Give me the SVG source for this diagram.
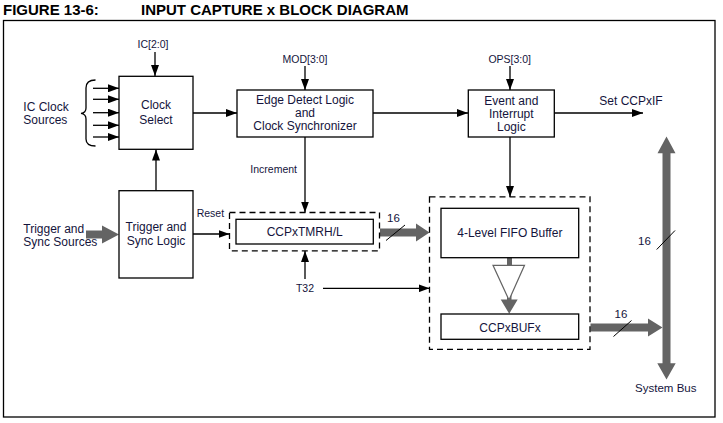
<svg xmlns="http://www.w3.org/2000/svg" width="723" height="423" viewBox="0 0 723 423">
<defs>
<style>
.t{font-family:"Liberation Sans",Arial,sans-serif;font-size:12px;fill:#14143c}
.s{font-family:"Liberation Sans",Arial,sans-serif;font-size:10.5px;fill:#14143c}
.ttl{font-family:"Liberation Sans",Arial,sans-serif;font-size:15px;font-weight:bold;fill:#000}
.m{text-anchor:middle}
.box{fill:#fff;stroke:#000;stroke-width:1.3}
.dash{fill:none;stroke:#000;stroke-width:1.3;stroke-dasharray:6,4}
.ln{fill:none;stroke:#000;stroke-width:1.3}
.ar{fill:none;stroke:#000;stroke-width:1.3;marker-end:url(#ah)}
.bus{fill:#646464;stroke:none}
.sl{stroke:#000;stroke-width:1}
</style>
<marker id="ah" markerUnits="userSpaceOnUse" markerWidth="11" markerHeight="8" refX="11" refY="4" orient="auto">
<path d="M0,0 L11,4 L0,8 z" fill="#000"/>
</marker>
</defs>
<rect width="723" height="423" fill="#fff"/>
<text class="ttl" x="3" y="15">FIGURE 13-6:</text>
<text class="ttl" x="141" y="15">INPUT CAPTURE x BLOCK DIAGRAM</text>
<rect x="3.5" y="20.5" width="711.5" height="396.5" class="ln"/>

<g id="connectors">
<path class="ar" d="M155,52 V76"/>
<path class="ar" d="M93,88.3 H119"/>
<path class="ar" d="M93,99.3 H119"/>
<path class="ar" d="M93,112.7 H119"/>
<path class="ar" d="M93,125.3 H119"/>
<path class="ar" d="M93,137 H119"/>
<path class="ln" d="M95.5,80 Q86,80 86,88 V108 Q86,113 81,113.3 Q86,114 86,119 V139 Q86,146 95.5,146"/>
<path class="ar" d="M193,113 H237"/>
<path class="ar" d="M305,66 V90"/>
<path class="ar" d="M373,113 H468"/>
<path class="ar" d="M510,66 V90"/>
<path class="ar" d="M554,113 H643"/>
<path class="ar" d="M510,137 V197"/>
<path class="ar" d="M305,137 V212.5"/>
<path class="ar" d="M156,190.7 V149.5"/>
<path class="ar" d="M193,234 H229.5"/>
<path class="ar" d="M305,279 V251"/>
<path class="ar" d="M323,288.3 H429.5"/>
<path class="bus" d="M86,230.5 H102 V225.5 L119,234.5 L102,243.5 V238.5 H86 z"/>
<path class="bus" d="M380,228.5 H416 V223.5 L429.5,232.5 L416,241.5 V236.5 H380 z"/>
<line class="sl" x1="386" y1="240.5" x2="405" y2="225"/>
<text class="t m" x="393.5" y="221.5" style="font-size:11.5px">16</text>
<path class="bus" d="M590.5,323.5 H648 V318.5 L662.5,327.5 L648,336.5 V331.5 H590.5 z"/>
<line class="sl" x1="613.5" y1="336.5" x2="631.5" y2="320.5"/>
<text class="t m" x="621" y="318" style="font-size:11.5px">16</text>
<path class="bus" d="M666.5,136.5 L675.5,153.3 H670.5 V363.3 H675.7 L666.5,379.5 L657.3,363.3 H662.5 V153.3 H657.5 z"/>
<line class="sl" x1="656.7" y1="249.5" x2="675" y2="230.5"/>
<text class="t m" x="644.5" y="245" style="font-size:11.5px">16</text>
<rect class="bus" x="507" y="257.5" width="5" height="8"/>
<path class="bus" d="M507,290 H511.5 V299.5 H517.7 L509.2,313.8 L500.7,299.5 H507 z"/>
</g>

<text class="s m" x="153" y="48.3">IC[2:0]</text>
<text class="s m" x="305" y="62.7">MOD[3:0]</text>
<text class="s m" x="509.7" y="62.7">OPS[3:0]</text>
<text class="s m" x="273.7" y="172.5">Increment</text>
<text class="s" x="196.7" y="216.7">Reset</text>
<text class="s m" x="305" y="291.7">T32</text>
<text class="t" x="23.3" y="111">IC Clock</text>
<text class="t" x="23.3" y="124.3">Sources</text>
<text class="t" x="23.3" y="233.3">Trigger and</text>
<text class="t" x="23.3" y="246.3">Sync Sources</text>
<text class="t" x="599.3" y="105">Set CCPxIF</text>
<text class="t m" x="665.8" y="391.7" style="font-size:11.5px">System Bus</text>

<g id="clock-select">
<rect class="box" x="119" y="76.3" width="74" height="73"/>
<text class="t m" x="156" y="109.3">Clock</text>
<text class="t m" x="156" y="124">Select</text>
</g>
<g id="edge-detect">
<rect class="box" x="237" y="90" width="136" height="47"/>
<text class="t m" x="305" y="104.3">Edge Detect Logic</text>
<text class="t m" x="305" y="117.3">and</text>
<text class="t m" x="305" y="130.3">Clock Synchronizer</text>
</g>
<g id="event-logic">
<rect class="box" x="468.3" y="90" width="86" height="47"/>
<text class="t m" x="511.3" y="104.5">Event and</text>
<text class="t m" x="511.3" y="117.5">Interrupt</text>
<text class="t m" x="511.3" y="130.7">Logic</text>
</g>
<g id="trigger-logic">
<rect class="box" x="119" y="190.7" width="74" height="87.3"/>
<text class="t m" x="156" y="231">Trigger and</text>
<text class="t m" x="156" y="245">Sync Logic</text>
</g>
<g id="timer">
<rect class="dash" x="229.5" y="212.5" width="150" height="38.3"/>
<rect class="box" x="236" y="219.3" width="137.3" height="24.7"/>
<text class="t m" x="304.7" y="236">CCPxTMRH/L</text>
</g>
<g id="fifo-block">
<rect class="dash" x="429.5" y="196.8" width="160.5" height="152.5"/>
<rect class="box" x="441" y="208.3" width="137.7" height="49.4"/>
<text class="t m" x="509.8" y="236.7">4-Level FIFO Buffer</text>
<path d="M493,265.3 H524.5 L509,300 z" fill="#fff" stroke="#646464" stroke-width="1.2"/>
<rect class="box" x="441" y="314" width="137.7" height="25.3"/>
<text class="t m" x="510" y="331.5">CCPxBUFx</text>
</g>
</svg>
